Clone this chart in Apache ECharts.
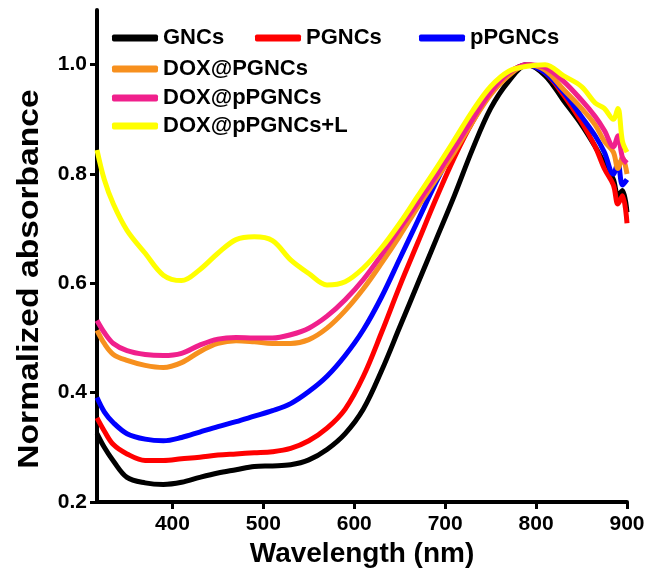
<!DOCTYPE html>
<html>
<head>
<meta charset="utf-8">
<script src="https://cdn.jsdelivr.net/npm/echarts@6/dist/echarts.min.js"></script>
<style>html,body{margin:0;padding:0;background:#fff;}#c{width:652px;height:583px;}</style>
</head>
<body>
<div id="c"></div>
<script>
const wavelengths = [317,325,335,350,370,390,410,430,450,470,490,510,530,550,570,590,610,630,650,670,690,710,730,750,770,790,810,830,850,865,875,885,890,895,900];
const GNCs       = [0.325,0.300,0.275,0.245,0.235,0.232,0.236,0.245,0.253,0.259,0.265,0.266,0.268,0.277,0.296,0.325,0.370,0.440,0.520,0.600,0.680,0.760,0.845,0.920,0.970,1.000,0.980,0.935,0.890,0.850,0.820,0.790,0.760,0.770,0.730];
const PGNCs      = [0.354,0.330,0.305,0.288,0.276,0.276,0.279,0.282,0.286,0.288,0.290,0.292,0.298,0.312,0.335,0.370,0.430,0.510,0.595,0.675,0.755,0.830,0.895,0.948,0.985,1.000,0.985,0.945,0.895,0.850,0.810,0.780,0.745,0.760,0.710];
const pPGNCs     = [0.391,0.365,0.345,0.325,0.315,0.312,0.318,0.328,0.338,0.347,0.357,0.367,0.380,0.402,0.430,0.468,0.515,0.575,0.645,0.715,0.785,0.850,0.910,0.955,0.985,1.000,0.985,0.950,0.905,0.870,0.840,0.800,0.820,0.780,0.790];
const DOX_PGNCs  = [0.514,0.490,0.470,0.459,0.450,0.446,0.455,0.475,0.490,0.495,0.493,0.490,0.490,0.497,0.518,0.550,0.590,0.637,0.687,0.740,0.790,0.840,0.895,0.945,0.980,1.000,0.990,0.955,0.920,0.890,0.860,0.840,0.810,0.830,0.800];
const DOX_pPGNCs = [0.532,0.510,0.490,0.477,0.470,0.468,0.472,0.487,0.498,0.501,0.500,0.500,0.506,0.518,0.540,0.570,0.607,0.652,0.700,0.748,0.797,0.848,0.900,0.950,0.985,1.000,0.995,0.970,0.935,0.905,0.880,0.850,0.870,0.830,0.820];
const DOX_pPGNCs_L = [0.844,0.790,0.745,0.697,0.655,0.615,0.605,0.625,0.655,0.680,0.685,0.678,0.643,0.618,0.597,0.603,0.628,0.665,0.710,0.760,0.810,0.862,0.915,0.960,0.988,0.997,1.000,0.980,0.960,0.930,0.920,0.900,0.920,0.860,0.840];
const seriesNames = ['GNCs','PGNCs','pPGNCs','DOX@PGNCs','DOX@pPGNCs','DOX@pPGNCs+L'];
const seriesColors = ['#000000','#ff0000','#0000ff','#f7901e','#f0208c','#ffff00'];
const seriesValues = [GNCs, PGNCs, pPGNCs, DOX_PGNCs, DOX_pPGNCs, DOX_pPGNCs_L];
const xTicks = [400,500,600,700,800,900];
const yTicks = [0.2,0.4,0.6,0.8,1.0];
const yTitle = 'Normalized absorbance';
const xTitle = 'Wavelength (nm)';

const FONT = "'Liberation Sans', Arial, sans-serif";
const chart = echarts.init(document.getElementById('c'), null, {renderer:'canvas'});

const legendPos = [
  {left:112, cy:38},{left:255, cy:38},{left:419, cy:38},
  {left:112, cy:69},{left:112, cy:98},{left:112, cy:126}
];
const legends = seriesNames.map((n,i)=>({
  data:[n], left:legendPos[i].left, top:legendPos[i].cy-11, padding:0,
  icon:'roundRect', itemWidth:46, itemHeight:7, itemGap:0,
  textStyle:{fontFamily:FONT, fontWeight:'bold', fontSize:22, lineHeight:22, color:'#000', padding:[0,0,0,0]},
  selectedMode:false
}));

chart.setOption({
  animation:false,
  backgroundColor:'#fff',
  legend: legends,
  graphic:[{
    type:'text', x:30, y:279, rotation:Math.PI/2, scaleX:1.16, scaleY:1,
    style:{text:yTitle, font:"bold 29px 'Liberation Sans', Arial, sans-serif", fill:'#000', textAlign:'center', textVerticalAlign:'middle'}
  }],
  grid:{left:97, right:25, top:10, bottom:81, containLabel:false},
  xAxis:{
    type:'value', min:317, max:900,
    name:xTitle, nameLocation:'middle', nameGap:38,
    nameTextStyle:{fontFamily:FONT, fontWeight:'bold', fontSize:28, color:'#000'},
    axisLine:{show:true, lineStyle:{color:'#000', width:4}},
    axisTick:{show:true, inside:false, length:7, lineStyle:{color:'#000', width:3}, customValues:xTicks},
    axisLabel:{fontFamily:FONT, fontWeight:'bold', fontSize:21, color:'#000', margin:12, customValues:xTicks},
    splitLine:{show:false}
  },
  yAxis:{
    type:'value', min:0.2, max:1.1,
    axisLine:{show:true, lineStyle:{color:'#000', width:4}},
    axisTick:{show:true, inside:false, length:7, lineStyle:{color:'#000', width:3}, customValues:yTicks},
    axisLabel:{fontFamily:FONT, fontWeight:'bold', fontSize:21, color:'#000', margin:10, customValues:yTicks, formatter:v=>v.toFixed(1)},
    splitLine:{show:false}
  },
  series: seriesNames.map((n,i)=>({
    name:n, type:'line', showSymbol:false, smooth:0.35,
    data: wavelengths.map((w,k)=>[w, seriesValues[i][k]]),
    lineStyle:{color:seriesColors[i], width:5},
    itemStyle:{color:seriesColors[i]},
    z:2+i
  }))
});
</script>
</body>
</html>
